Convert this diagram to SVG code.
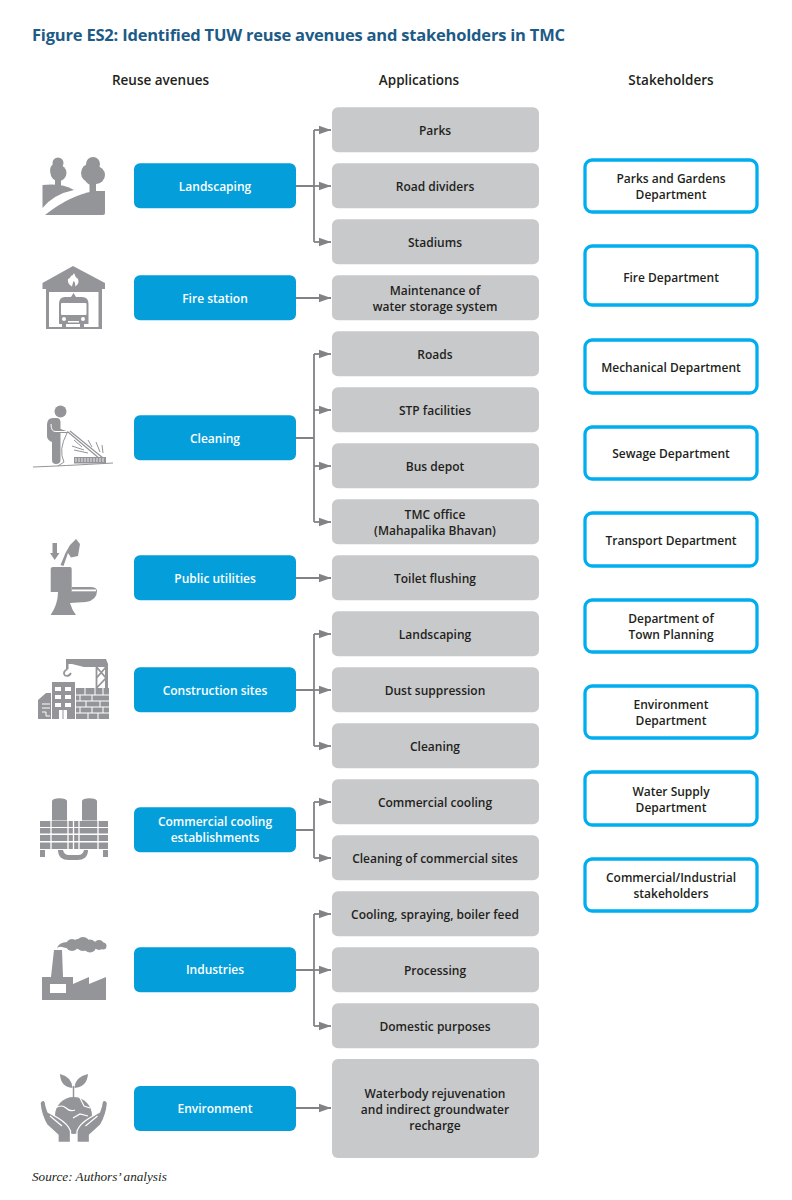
<svg xmlns="http://www.w3.org/2000/svg" width="792" height="1200" viewBox="0 0 792 1200">
<style>
text{font-family:"Open Sans","Noto Sans","Liberation Sans",sans-serif;font-weight:600;text-anchor:middle}
.h{font-size:13.5px;fill:#231f20}
.t{font-size:12px;fill:#231f20}
.w{font-size:12px;fill:#fff}
.b{fill:#049fda}
.g{fill:#c8c9cb}
.s{fill:#fff;stroke:#00aeef;stroke-width:3.3}
.c{fill:none;stroke:#808285;stroke-width:1.8}
.i{fill:#939598}
.iw{fill:none;stroke:#fff;stroke-width:1.2}
.il{fill:none;stroke:#939598;stroke-width:1}
</style>
<defs><marker id="a" markerUnits="userSpaceOnUse" markerWidth="13" markerHeight="10" refX="12.500" refY="5" orient="auto"><path d="M0 0.500L12.500 5L0 9.500Z" fill="#808285"/></marker></defs>
<rect width="792" height="1200" fill="#fff"/>
<text x="32" y="41" style="font-size:16.5px;font-weight:700;fill:#1d5b87;text-anchor:start;letter-spacing:-.2px">Figure ES2: Identified TUW reuse avenues and stakeholders in TMC</text>
<text class="h" x="160.500" y="85">Reuse avenues</text>
<text class="h" x="419" y="85">Applications</text>
<text class="h" x="671" y="85">Stakeholders</text>

<g id="connectors" class="c">
<path d="M296 186H314M314 130V242"/>
<path d="M314 130H331" marker-end="url(#a)"/><path d="M314 186H331" marker-end="url(#a)"/><path d="M314 242H331" marker-end="url(#a)"/>
<path d="M296 298H331" marker-end="url(#a)"/>
<path d="M296 438H314M314 354V522"/>
<path d="M314 354H331" marker-end="url(#a)"/><path d="M314 410H331" marker-end="url(#a)"/><path d="M314 466H331" marker-end="url(#a)"/><path d="M314 522H331" marker-end="url(#a)"/>
<path d="M296 578H331" marker-end="url(#a)"/>
<path d="M296 690H314M314 634V746"/>
<path d="M314 634H331" marker-end="url(#a)"/><path d="M314 690H331" marker-end="url(#a)"/><path d="M314 746H331" marker-end="url(#a)"/>
<path d="M296 830H314M314 802V858"/>
<path d="M314 802H331" marker-end="url(#a)"/><path d="M314 858H331" marker-end="url(#a)"/>
<path d="M296 970H314M314 914V1026"/>
<path d="M314 914H331" marker-end="url(#a)"/><path d="M314 970H331" marker-end="url(#a)"/><path d="M314 1026H331" marker-end="url(#a)"/>
<path d="M296 1108H331" marker-end="url(#a)"/>
</g>

<g id="icon-landscaping" class="i">
<path d="M42.500 185Q62 183 74 190Q54 194 42.500 208Z"/>
<path d="M45 215Q70 195 95 191H105V213Q105 215 103 215Z"/>
<rect x="55" y="176" width="6" height="11"/><rect x="89.500" y="178" width="6.500" height="20"/>
<circle cx="58" cy="163" r="5.500"/><circle cx="57" cy="170" r="7"/><circle cx="58.500" cy="173" r="8"/>
<circle cx="93" cy="164" r="7"/><circle cx="90.500" cy="173" r="9.500"/><circle cx="96" cy="175" r="9"/><circle cx="92" cy="178" r="7"/>
</g>
<g id="icon-fire">
<path class="i" d="M73 266L105 283V289H42.500V283Z"/>
<path class="i" d="M46 289H102V329H46ZM49 292V327H98.500V292Z" fill-rule="evenodd"/>
<path class="i" d="M73.500 293L76 297H82Q88.500 297 88.500 304V324H84V327H80V324H66V327H62V324H59V304Q59 297 65 297H71Z"/>
<rect x="61" y="303" width="25.500" height="12" rx="1" fill="#fff"/>
<circle cx="64" cy="319" r="2" fill="#fff"/><circle cx="83" cy="319" r="2" fill="#fff"/><rect x="68" y="321" width="11" height="1.500" fill="#fff"/>
<path d="M74 273Q75 277 78 279Q80 284 75 286.500Q76 283 73.500 281Q72.500 284 72 286.500Q67 284 68 279Q70 279 71 276Q73 276 74 273Z" fill="#fff"/>
</g>
<g id="icon-cleaning">
<circle class="i" cx="60.500" cy="411.500" r="6"/>
<path class="i" d="M47 425Q47 418 53 418H57Q61 418 60.500 424V429L68 431.500V433L60.500 433V460Q60.500 464 56 464Q52 464 52 460V442Q47 440 47 436Z"/>
<path d="M51 424Q51 432 56 431.500L67 431.500" fill="none" stroke="#fff" stroke-width="1"/>
<path class="il" d="M33 467Q60 466 113 463M67 433Q58 450 64 462L58 466"/>
<path class="il" style="stroke-width:1.200" d="M68 432L100 459M70 431L103 458"/>
<path class="il" d="M82 447L74 440M84 450L72 446M88 453L74 450M92 447L88 440M100 452L96 442M103 453L102 445"/>
<rect class="i" x="74" y="457" width="32" height="6.500"/>
<path d="M76 458V462M79 458V462M82 458V462M85 458V462M88 458V462M91 458V462M94 458V462M97 458V462M100 458V462M103 458V462" stroke="#fff" stroke-width=".8"/>
</g>
<g id="icon-public" class="i">
<path d="M52.500 543H57V553H59.500L54.700 560L50 553H52.500Z"/>
<path d="M60.500 565L65.500 553L70 545L76 539L80 544L78 556L71 557.500L68 553L63.500 566Z"/>
<path d="M50.700 569Q50.700 567 53 567H70Q71.700 567 71.700 569V592H50.700Z"/>
<path d="M71.700 587H90Q97 587 97 591Q97 600 86 602L70 603Q72 610 76 615H50.700Q58 604 58 592H71.700Z"/>
<rect x="72" y="589.500" width="24" height="1.800" fill="#fff"/>
</g>
<g id="icon-construction">
<path class="i" d="M66 659H106L108 664V690H105V667H84L72 664H66Z"/>
<rect class="i" x="66" y="662" width="2.500" height="7"/><path class="il" style="stroke-width:1.800" d="M67.500 669Q62 672 65 675.500Q69 677 71 673"/>
<path class="il" style="stroke-width:1.800" d="M96.500 667V690M96.500 667L106 678L96.500 688M106 667L96.500 678"/>
<rect class="i" x="76" y="688" width="33" height="31"/>
<path stroke="#fff" fill="none" d="M76 695H109M76 701H109M76 707H109M76 713H109M85 688V695M95 688V695M103 688V695M80 695V701M92 695V701M100 701V707M86 701V707M80 707V713M92 707V713M103 707V713M88 713V719M98 713V719"/>
<rect class="i" x="52" y="682" width="23" height="37"/>
<path class="i" d="M38 719V700L46 693H51V719Z"/>
<path stroke="#fff" fill="none" d="M42 704H50M42 708H50M42 712H46V716H50"/>
<path fill="#fff" d="M55 687h6v4h-6zM65 687h6v4h-6zM55 695h6v4h-6zM65 695h6v4h-6zM55 703h6v4h-6zM65 703h6v4h-6zM59 710h8v9h-8z"/>
<path class="i" d="M62.500 710h1v9h-1z"/>
</g>
<g id="icon-commercial" class="i">
<rect x="52" y="801" width="15" height="19.500"/><ellipse cx="59.500" cy="801" rx="7.500" ry="2.800"/>
<rect x="82" y="801" width="15" height="19.500"/><ellipse cx="89.500" cy="801" rx="7.500" ry="2.800"/>
<rect x="40" y="821" width="68" height="6"/><rect x="40" y="828" width="68" height="5.500"/><rect x="40" y="835" width="68" height="6"/><rect x="40" y="842.500" width="68" height="6.500"/>
<path stroke="#fff" stroke-width="1.300" d="M51 821V849M68 821V849M73.500 821V849M79 821V849M98 821V849"/>
<rect x="40" y="850" width="5" height="7"/><rect x="103" y="850" width="5" height="7"/>
<path d="M58 850H63Q64 855 69 855H78Q83 855 84 850H88Q88 860 77 860H69Q58 860 58 850Z"/>
</g>
<g id="icon-industries" class="i">
<path d="M42 1000V977H51L54 950H62L63 977H73V984L89 977V984L106 977V1000ZM50 984V993H66V984Z" fill-rule="evenodd"/>
<path d="M57 949Q58 942 68 942L74 950L62 947Q58 946 57 949Z"/>
<circle cx="72" cy="945" r="6"/><circle cx="78" cy="944" r="5"/><circle cx="83" cy="944" r="7"/><circle cx="90" cy="946" r="6.500"/><circle cx="99" cy="945" r="5"/><circle cx="103" cy="946" r="3.500"/>
</g>
<g id="icon-environment">
<circle class="i" cx="73.500" cy="1115.500" r="18.500"/>
<path d="M73.500 1086V1097" stroke="#939598" stroke-width="1.500" fill="none"/>
<path class="i" d="M72.500 1088Q60.500 1087 60 1074Q72 1077 72.500 1088ZM74.500 1088Q87 1087 88 1074Q75 1077 74.500 1088Z"/>
<path class="iw" d="M55 1108Q62 1104 66 1108Q70 1112 75 1110M80 1098L84 1106L90 1108M73 1118L80 1114L88 1116"/>
<path class="i" stroke="#fff" stroke-width="1.300" d="M40 1103Q41 1100 43.500 1100Q45.500 1101 46 1106L48 1112L58 1118Q68 1124 70.500 1131V1142.500H58V1135L47 1125Q41 1115 40 1103Z"/>
<path class="i" stroke="#fff" stroke-width="1.300" d="M107.500 1103Q106.500 1100 104 1100Q102 1101 101.500 1106L99.500 1112L89.500 1118Q79.500 1124 77 1131V1142.500H89.500V1135L100.500 1125Q106.500 1115 107.500 1103Z"/>
<path class="iw" d="M50 1116L62 1126M97.500 1116L85.500 1126"/>
</g>

<g id="landscaping"><rect class="b" x="134" y="163.300" width="162" height="45" rx="6"/><text class="w" x="215" y="191">Landscaping</text></g>
<g id="fire-station"><rect class="b" x="134" y="275.300" width="162" height="45" rx="6"/><text class="w" x="215" y="303">Fire station</text></g>
<g id="cleaning"><rect class="b" x="134" y="415.300" width="162" height="45" rx="6"/><text class="w" x="215" y="443">Cleaning</text></g>
<g id="public-utilities"><rect class="b" x="134" y="555.300" width="162" height="45" rx="6"/><text class="w" x="215" y="583">Public utilities</text></g>
<g id="construction-sites"><rect class="b" x="134" y="667.300" width="162" height="45" rx="6"/><text class="w" x="215" y="695">Construction sites</text></g>
<g id="commercial-cooling-establishments"><rect class="b" x="134" y="807.300" width="162" height="45" rx="6"/><text class="w" x="215" y="826">Commercial cooling</text><text class="w" x="215" y="842">establishments</text></g>
<g id="industries"><rect class="b" x="134" y="947.300" width="162" height="45" rx="6"/><text class="w" x="215" y="974">Industries</text></g>
<g id="environment"><rect class="b" x="134" y="1086" width="162" height="45" rx="6"/><text class="w" x="215" y="1113">Environment</text></g>

<g id="app-parks"><rect class="g" x="332" y="107.300" width="207" height="45" rx="6"/><text class="t" x="435" y="135">Parks</text></g>
<g id="app-road-dividers"><rect class="g" x="332" y="163.300" width="207" height="45" rx="6"/><text class="t" x="435" y="191">Road dividers</text></g>
<g id="app-stadiums"><rect class="g" x="332" y="219.300" width="207" height="45" rx="6"/><text class="t" x="435" y="247">Stadiums</text></g>
<g id="app-maintenance"><rect class="g" x="332" y="275.300" width="207" height="45" rx="6"/><text class="t" x="435" y="295">Maintenance of</text><text class="t" x="435" y="311">water storage system</text></g>
<g id="app-roads"><rect class="g" x="332" y="331.300" width="207" height="45" rx="6"/><text class="t" x="435" y="359">Roads</text></g>
<g id="app-stp"><rect class="g" x="332" y="387.300" width="207" height="45" rx="6"/><text class="t" x="435" y="415">STP facilities</text></g>
<g id="app-bus"><rect class="g" x="332" y="443.300" width="207" height="45" rx="6"/><text class="t" x="435" y="471">Bus depot</text></g>
<g id="app-tmc"><rect class="g" x="332" y="499.300" width="207" height="45" rx="6"/><text class="t" x="435" y="519">TMC office</text><text class="t" x="435" y="535">(Mahapalika Bhavan)</text></g>
<g id="app-toilet"><rect class="g" x="332" y="555.300" width="207" height="45" rx="6"/><text class="t" x="435" y="583">Toilet flushing</text></g>
<g id="app-landscaping"><rect class="g" x="332" y="611.300" width="207" height="45" rx="6"/><text class="t" x="435" y="639">Landscaping</text></g>
<g id="app-dust"><rect class="g" x="332" y="667.300" width="207" height="45" rx="6"/><text class="t" x="435" y="695">Dust suppression</text></g>
<g id="app-cleaning"><rect class="g" x="332" y="723.300" width="207" height="45" rx="6"/><text class="t" x="435" y="751">Cleaning</text></g>
<g id="app-commercial-cooling"><rect class="g" x="332" y="779.300" width="207" height="45" rx="6"/><text class="t" x="435" y="807">Commercial cooling</text></g>
<g id="app-commercial-cleaning"><rect class="g" x="332" y="835.300" width="207" height="45" rx="6"/><text class="t" x="435" y="863">Cleaning of commercial sites</text></g>
<g id="app-cooling"><rect class="g" x="332" y="891.300" width="207" height="45" rx="6"/><text class="t" x="435" y="919">Cooling, spraying, boiler feed</text></g>
<g id="app-processing"><rect class="g" x="332" y="947.300" width="207" height="45" rx="6"/><text class="t" x="435" y="975">Processing</text></g>
<g id="app-domestic"><rect class="g" x="332" y="1003.300" width="207" height="45" rx="6"/><text class="t" x="435" y="1031">Domestic purposes</text></g>
<g id="app-waterbody"><rect class="g" x="332" y="1059" width="207" height="99" rx="6"/><text class="t" x="435" y="1098">Waterbody rejuvenation</text><text class="t" x="435" y="1114">and indirect groundwater</text><text class="t" x="435" y="1130">recharge</text></g>

<g id="sh-parks"><rect class="s" x="585" y="160" width="172" height="52" rx="7"/><text class="t" x="671" y="183">Parks and Gardens</text><text class="t" x="671" y="199">Department</text></g>
<g id="sh-fire"><rect class="s" x="585" y="246" width="172" height="59" rx="7"/><text class="t" x="671" y="282">Fire Department</text></g>
<g id="sh-mechanical"><rect class="s" x="585" y="340" width="172" height="53" rx="7"/><text class="t" x="671" y="372">Mechanical Department</text></g>
<g id="sh-sewage"><rect class="s" x="585" y="427" width="172" height="52" rx="7"/><text class="t" x="671" y="458">Sewage Department</text></g>
<g id="sh-transport"><rect class="s" x="585" y="513" width="172" height="53" rx="7"/><text class="t" x="671" y="545">Transport Department</text></g>
<g id="sh-planning"><rect class="s" x="585" y="600" width="172" height="52" rx="7"/><text class="t" x="671" y="623">Department of</text><text class="t" x="671" y="639">Town Planning</text></g>
<g id="sh-environment"><rect class="s" x="585" y="686" width="172" height="52" rx="7"/><text class="t" x="671" y="709">Environment</text><text class="t" x="671" y="725">Department</text></g>
<g id="sh-water"><rect class="s" x="585" y="772" width="172" height="53" rx="7"/><text class="t" x="671" y="796">Water Supply</text><text class="t" x="671" y="812">Department</text></g>
<g id="sh-commercial"><rect class="s" x="585" y="859" width="172" height="52" rx="7"/><text class="t" x="671" y="882">Commercial/Industrial</text><text class="t" x="671" y="898">stakeholders</text></g>

<text x="32" y="1181" style="font-family:'Liberation Serif',serif;font-style:italic;font-weight:400;font-size:13.200px;fill:#231f20;text-anchor:start">Source: Authors’ analysis</text>
</svg>
